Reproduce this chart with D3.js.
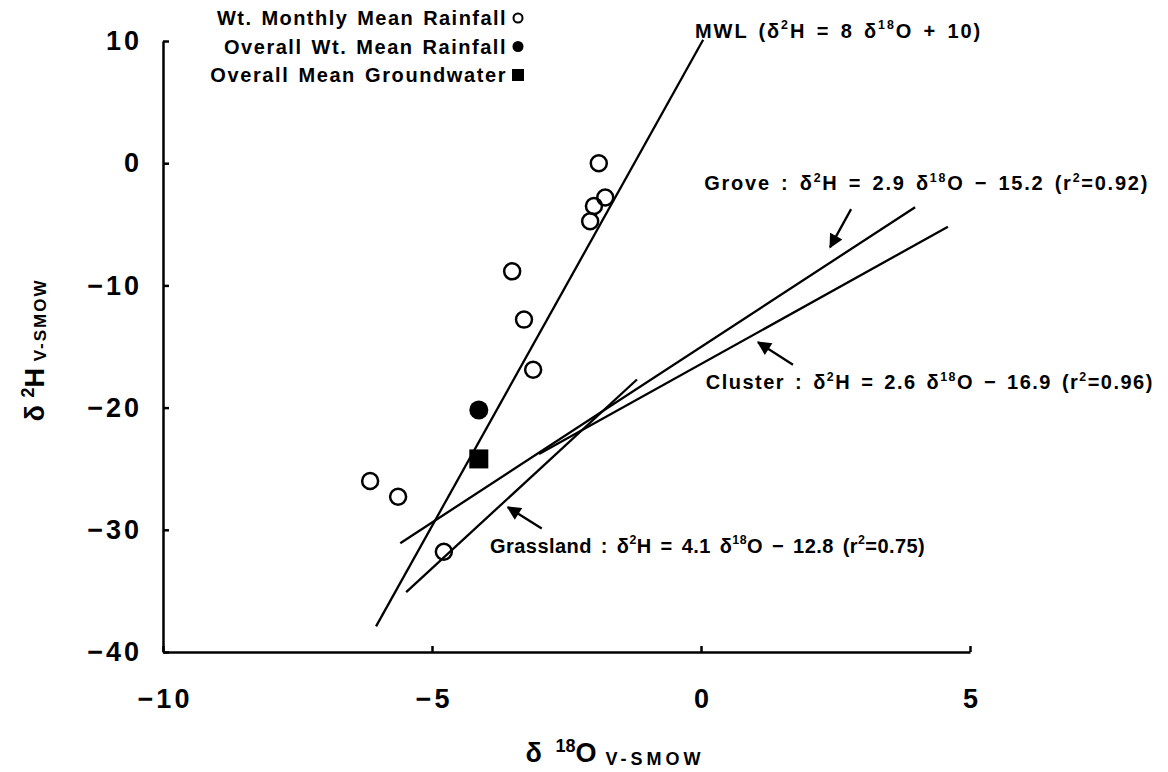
<!DOCTYPE html>
<html>
<head>
<meta charset="utf-8">
<script src="https://cdn.jsdelivr.net/npm/d3@7"></script>
<style>
  body { margin: 0; background: #fff; }
  svg { display: block; font-family: "Liberation Sans", Arial, sans-serif; }
</style>
</head>
<body>
<div class="chart"></div>
<script>
// monthly weighted mean rainfall (open circles)
const monthlyO = [-1.9, -1.78, -1.99, -2.06, -3.51, -3.29, -3.12, -6.15, -5.63, -4.78];
const monthlyH = [0.0, -2.8, -3.5, -4.75, -8.85, -12.8, -16.9, -26.0, -27.3, -31.8];
// overall weighted mean rainfall (filled circle) and groundwater (square)
const rainMeanO = [-4.13];
const rainMeanH = [-20.2];
const gwMeanO = [-4.13];
const gwMeanH = [-24.2];

// fitted lines, endpoints as drawn
const lineNames = ["MWL", "Grove", "Cluster", "Grassland"];
const lineX = [[-6.04, 0.04], [-5.59, 3.98], [-3.01, 4.59], [-5.48, -1.19]];
const lineY = [[-37.9, 10.1], [-31.1, -3.6], [-23.8, -5.2], [-35.1, -17.7]];

// arrows: tail -> tip
const arrowX = [[2.79, 2.4], [1.71, 1.06], [-2.96, -3.59]];
const arrowY = [[-3.76, -6.87], [-16.5, -14.65], [-29.9, -28.15]];

const xTicks = [-10, -5, 0, 5];
const yTicks = [10, 0, -10, -20, -30, -40];

const legendLabels = ["Wt. Monthly Mean Rainfall", "Overall Wt. Mean Rainfall", "Overall Mean Groundwater"];

const width = 1168, height = 772;

const svg = d3
  .select(".chart")
  .append("svg")
  .attr("width", width)
  .attr("height", height);

const xScale = d3.scaleLinear().domain([-10, 5]).range([163, 970]);
const yScale = d3.scaleLinear().domain([-40, 10]).range([652, 41]);

const fmt = (d) => (d < 0 ? "\u2212" + Math.abs(d) : d);

const xAxis = d3.axisBottom(xScale).tickValues(xTicks).tickSizeInner(-6).tickSizeOuter(0).tickPadding(37).tickFormat(fmt);
const yAxis = d3.axisLeft(yScale).tickValues(yTicks).tickSizeInner(-6).tickSizeOuter(0).tickPadding(21).tickFormat(fmt);

svg
  .append("g")
  .attr("class", "axis x-axis")
  .attr("transform", `translate(0, ${yScale(-40)})`)
  .call(xAxis);

svg
  .append("g")
  .attr("class", "axis y-axis")
  .attr("transform", `translate(${xScale(-10)}, 0)`)
  .call(yAxis);

svg.selectAll(".axis path, .axis line").attr("stroke", "#000").attr("stroke-width", 2.5);
svg
  .selectAll(".axis text")
  .attr("fill", "#000")
  .attr("font-size", "27px")
  .attr("font-weight", "bold")
  .attr("letter-spacing", "3px")
  .attr("font-family", "'Liberation Sans', Arial, sans-serif");
svg.selectAll(".x-axis text").attr("dx", "1.5px");

// regression lines
const lineData = lineNames.map((n, i) => ({ name: n, x: lineX[i], y: lineY[i] }));
svg
  .append("g")
  .selectAll("line")
  .data(lineData)
  .enter()
  .append("line")
  .attr("x1", (d) => xScale(d.x[0]))
  .attr("y1", (d) => yScale(d.y[0]))
  .attr("x2", (d) => xScale(d.x[1]))
  .attr("y2", (d) => yScale(d.y[1]))
  .attr("stroke", "#000")
  .attr("stroke-width", 2.3);

// arrows
svg
  .append("defs")
  .append("marker")
  .attr("id", "head")
  .attr("viewBox", "0 0 10 10")
  .attr("refX", 9)
  .attr("refY", 5)
  .attr("markerWidth", 16)
  .attr("markerHeight", 14)
  .attr("markerUnits", "userSpaceOnUse")
  .attr("orient", "auto")
  .append("path")
  .attr("d", "M0,0 L10,5 L0,10 Z")
  .attr("fill", "#000");

svg
  .append("g")
  .selectAll("line")
  .data(arrowX.map((a, i) => ({ x: a, y: arrowY[i] })))
  .enter()
  .append("line")
  .attr("x1", (d) => xScale(d.x[0]))
  .attr("y1", (d) => yScale(d.y[0]))
  .attr("x2", (d) => xScale(d.x[1]))
  .attr("y2", (d) => yScale(d.y[1]))
  .attr("stroke", "#000")
  .attr("stroke-width", 2.3)
  .attr("marker-end", "url(#head)");

// points
svg
  .append("g")
  .selectAll("circle")
  .data(monthlyO.map((o, i) => ({ o: o, h: monthlyH[i] })))
  .enter()
  .append("circle")
  .attr("cx", (d) => xScale(d.o))
  .attr("cy", (d) => yScale(d.h))
  .attr("r", 8)
  .attr("fill", "none")
  .attr("stroke", "#000")
  .attr("stroke-width", 2.5);

svg
  .append("g")
  .selectAll("circle")
  .data(rainMeanO.map((o, i) => ({ o: o, h: rainMeanH[i] })))
  .enter()
  .append("circle")
  .attr("cx", (d) => xScale(d.o))
  .attr("cy", (d) => yScale(d.h))
  .attr("r", 9.5)
  .attr("fill", "#000");

svg
  .append("g")
  .selectAll("rect")
  .data(gwMeanO.map((o, i) => ({ o: o, h: gwMeanH[i] })))
  .enter()
  .append("rect")
  .attr("x", (d) => xScale(d.o) - 9.5)
  .attr("y", (d) => yScale(d.h) - 9.5)
  .attr("width", 19)
  .attr("height", 19)
  .attr("fill", "#000");

// spread the letters of a text so it spans the wanted width
function fitWidth(t, target) {
  const node = t.node();
  t.attr("letter-spacing", "0px");
  const w0 = node.getBBox().width;
  const n = node.textContent.replace(/\u200b/g, "").length;
  t.attr("letter-spacing", ((target - w0) / n).toFixed(2) + "px");
}

// text with superscripts
function richText(g, parts, size) {
  parts.forEach((p) => {
    const t = g.append("tspan").text(p[0]);
    if (p[1] === "sup") {
      t.attr("font-size", size * 0.62 + "px").attr("dy", -size * 0.42);
      g.append("tspan").attr("dy", size * 0.42).text("\u200b");
    }
  });
}

const annotations = [
  { x: -0.11, y: 10.85, w: 287, parts: [["MWL (\u03b4"], ["2", "sup"], ["H = 8 \u03b4"], ["18", "sup"], ["O + 10)"]] },
  { x: 0.06, y: -1.65, w: 445, parts: [["Grove : \u03b4"], ["2", "sup"], ["H = 2.9 \u03b4"], ["18", "sup"], ["O \u2212 15.2 (r"], ["2", "sup"], ["=0.92)"]] },
  { x: 0.09, y: -17.9, w: 448, parts: [["Cluster : \u03b4"], ["2", "sup"], ["H = 2.6 \u03b4"], ["18", "sup"], ["O \u2212 16.9 (r"], ["2", "sup"], ["=0.96)"]] },
  { x: -3.92, y: -31.3, w: 435, parts: [["Grassland : \u03b4"], ["2", "sup"], ["H = 4.1 \u03b4"], ["18", "sup"], ["O \u2212 12.8 (r"], ["2", "sup"], ["=0.75)"]] },
];

annotations.forEach((a) => {
  const t = svg
    .append("text")
    .attr("x", xScale(a.x))
    .attr("y", yScale(a.y) + 7)
    .attr("font-size", "20px")
    .attr("font-weight", "bold")
    .attr("word-spacing", "3px");
  richText(t, a.parts, 20);
  fitWidth(t, a.w);
});

// legend
const legendWidths = [290, 283, 297];
const legend = svg.append("g");
legend
  .selectAll("text")
  .data(legendLabels)
  .enter()
  .append("text")
  .attr("x", 507)
  .attr("y", (d, i) => 25 + i * 28.5)
  .attr("text-anchor", "end")
  .attr("font-size", "20px")
  .attr("font-weight", "bold")
  .attr("word-spacing", "2px")
  .text((d) => d)
  .each(function (d, i) {
    fitWidth(d3.select(this), legendWidths[i]);
  });

legend.append("circle").attr("cx", 518).attr("cy", 18).attr("r", 4.5).attr("fill", "none").attr("stroke", "#000").attr("stroke-width", 2);
legend.append("circle").attr("cx", 518).attr("cy", 46.5).attr("r", 5.5).attr("fill", "#000");
legend.append("rect").attr("x", 512).attr("y", 69).attr("width", 12).attr("height", 12).attr("fill", "#000");

// axis titles
const yTitle = svg
  .append("text")
  .attr("transform", "translate(44, 350) rotate(-90)")
  .attr("text-anchor", "middle")
  .attr("font-size", "27px")
  .attr("font-weight", "bold");
yTitle.append("tspan").text("\u03b4 ");
yTitle.append("tspan").attr("font-size", "18px").attr("dy", -10).text("2");
yTitle.append("tspan").attr("dy", 10).text("H");
yTitle.append("tspan").attr("font-size", "17px").attr("dy", 2).attr("letter-spacing", "2px").text(" V-SMOW");

const xTitle = svg
  .append("text")
  .attr("x", 615)
  .attr("y", 762)
  .attr("text-anchor", "middle")
  .attr("font-size", "27px")
  .attr("font-weight", "bold");
xTitle.append("tspan").attr("letter-spacing", "3px").text("\u03b4  ");
xTitle.append("tspan").attr("font-size", "18px").attr("dy", -10).text("18");
xTitle.append("tspan").attr("dy", 10).text("O");
xTitle.append("tspan").attr("font-size", "18px").attr("dy", 3).attr("letter-spacing", "4px").text("  V-SMOW");
</script>
</body>
</html>
